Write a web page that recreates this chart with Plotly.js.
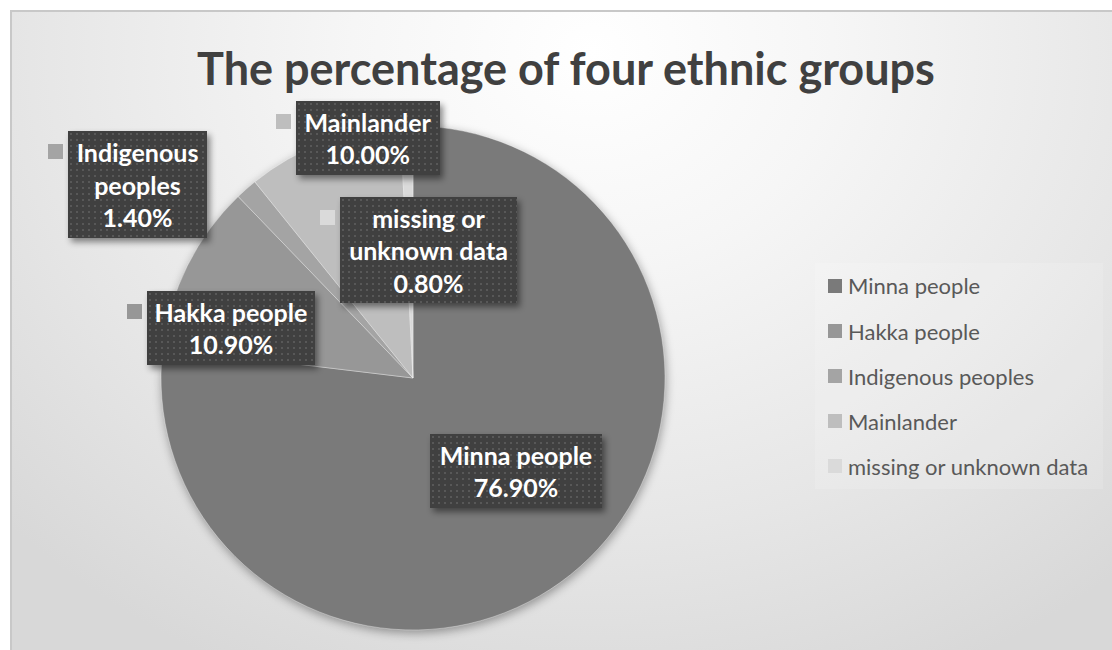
<!DOCTYPE html>
<html>
<head>
<meta charset="utf-8">
<script src="https://cdn.plot.ly/plotly-3.0.1.min.js"></script>
<style>
  html, body { margin: 0; padding: 0; background: #ffffff; }
  #wrap { position: relative; width: 1112px; height: 650px; overflow: hidden; background: #ffffff; }
  #frame {
    position: absolute; left: 10px; top: 10px; width: 1120px; height: 660px;
    border: 2px solid #c8c8c8; box-sizing: border-box;
    background: radial-gradient(ellipse 72% 105% at 52% 6%, #ffffff 0%, #f6f6f6 30%, #e6e6e6 70%, #d8d8d8 100%);
  }
  #chart { position: absolute; left: 0; top: 0; width: 1112px; height: 650px; }
  #defs { position: absolute; width: 0; height: 0; }
  .pielayer { filter: drop-shadow(1px 3px 5px rgba(0,0,0,0.35)); }
  .annotation[data-index="0"] .bg,
  .annotation[data-index="1"] .bg,
  .annotation[data-index="2"] .bg,
  .annotation[data-index="3"] .bg,
  .annotation[data-index="4"] .bg {
    fill: url(#dots) !important;
    filter: drop-shadow(3px 4px 3px rgba(0,0,0,0.45));
  }
</style>
</head>
<body>
<svg id="defs" width="0" height="0">
  <defs>
    <pattern id="dots" width="6" height="6" patternUnits="userSpaceOnUse">
      <rect width="6" height="6" fill="#404040"></rect>
      <rect x="2" y="2" width="2" height="2" fill="#585858"></rect>
    </pattern>
  </defs>
</svg>
<div id="wrap">
  <div id="frame"></div>
  <div id="chart"></div>
</div>
<script>
// ---- data ----
const categories = ["Minna people", "Hakka people", "Indigenous peoples", "Mainlander", "missing or unknown data"];
const percentages = [76.9, 10.9, 1.4, 10.0, 0.8];
const chartTitle = "The percentage of four ethnic groups";

// ---- styles / layout helpers ----
const sliceColors = ["#7a7a7a", "#979797", "#a4a4a4", "#bebebe", "#dadada"];
const W = 1112, H = 650;
const px = x => x / W;
const py = y => 1 - y / H;

// label box centres and sizes (pixels) in category order
const labelBoxes = [
  {cx: 516, cy: 471, w: 172, h: 74},
  {cx: 231, cy: 328, w: 168, h: 74},
  {cx: 137.5, cy: 184.5, w: 139, h: 107},
  {cx: 368, cy: 138, w: 144, h: 74},
  {cx: 428.5, cy: 250, w: 177, h: 106}
];

function wrapLabel(s, maxChars) {
  const words = s.split(" ");
  const lines = [];
  let cur = "";
  words.forEach(w => {
    if (cur === "") cur = w;
    else if ((cur + " " + w).length <= maxChars) cur += " " + w;
    else { lines.push(cur); cur = w; }
  });
  if (cur) lines.push(cur);
  return lines.join("<br>");
}

const annotations = [];
const shapes = [];

categories.forEach((c, i) => {
  const b = labelBoxes[i];
  annotations.push({
    xref: "paper", yref: "paper",
    x: px(b.cx), y: py(b.cy), xanchor: "center", yanchor: "middle",
    text: wrapLabel(c, 12) + "<br>" + percentages[i].toFixed(2) + "%",
    showarrow: false,
    width: b.w, height: b.h, borderpad: 0, borderwidth: 0,
    bgcolor: "#404040",
    align: "center", valign: "middle",
    font: {family: "Lato, 'Open Sans', sans-serif", size: 25, color: "#ffffff", weight: "bold"}
  });
  // key square left of the label box
  const kx = b.cx - b.w / 2 - 12.5, ky = b.cy - b.h / 2 + 20.5;
  shapes.push({
    type: "rect", xref: "paper", yref: "paper",
    x0: px(kx - 7.5), x1: px(kx + 7.5), y0: py(ky + 7.5), y1: py(ky - 7.5),
    fillcolor: sliceColors[i], line: {width: 0}
  });
});

// custom legend
shapes.push({
  type: "rect", xref: "paper", yref: "paper",
  x0: px(815), x1: px(1103), y0: py(489), y1: py(263),
  fillcolor: "rgba(255,255,255,0.14)", line: {width: 0}, layer: "below"
});
categories.forEach((c, i) => {
  const cy = 286 + i * 45;
  shapes.push({
    type: "rect", xref: "paper", yref: "paper",
    x0: px(828), x1: px(842), y0: py(cy + 7), y1: py(cy - 7),
    fillcolor: sliceColors[i], line: {width: 0}
  });
  annotations.push({
    xref: "paper", yref: "paper", x: px(847), y: py(cy),
    xanchor: "left", yanchor: "middle", showarrow: false,
    text: c, borderpad: 0,
    font: {family: "Lato, 'Open Sans', sans-serif", size: 22, color: "#595959"}
  });
});

const trace = {
  type: "pie",
  labels: categories,
  values: percentages,
  sort: false,
  direction: "clockwise",
  rotation: 0,
  textinfo: "none",
  hoverinfo: "label+percent",
  marker: {colors: sliceColors, line: {color: "rgba(255,255,255,0.35)", width: 1}},
  domain: {x: [px(161), px(665)], y: [py(630), py(126)]}
};

const layout = {
  width: W, height: H,
  margin: {l: 0, r: 0, t: 0, b: 0},
  paper_bgcolor: "rgba(0,0,0,0)",
  plot_bgcolor: "rgba(0,0,0,0)",
  showlegend: false,
  title: {
    text: chartTitle,
    x: 566 / W, xanchor: "center",
    y: 1 - 69 / H, yanchor: "middle",
    font: {family: "Lato, 'Open Sans', sans-serif", size: 45, color: "#404040", weight: "bold"}
  },
  annotations: annotations,
  shapes: shapes
};

Plotly.newPlot("chart", [trace], layout, {displayModeBar: false, staticPlot: true});
</script>
</body>
</html>
